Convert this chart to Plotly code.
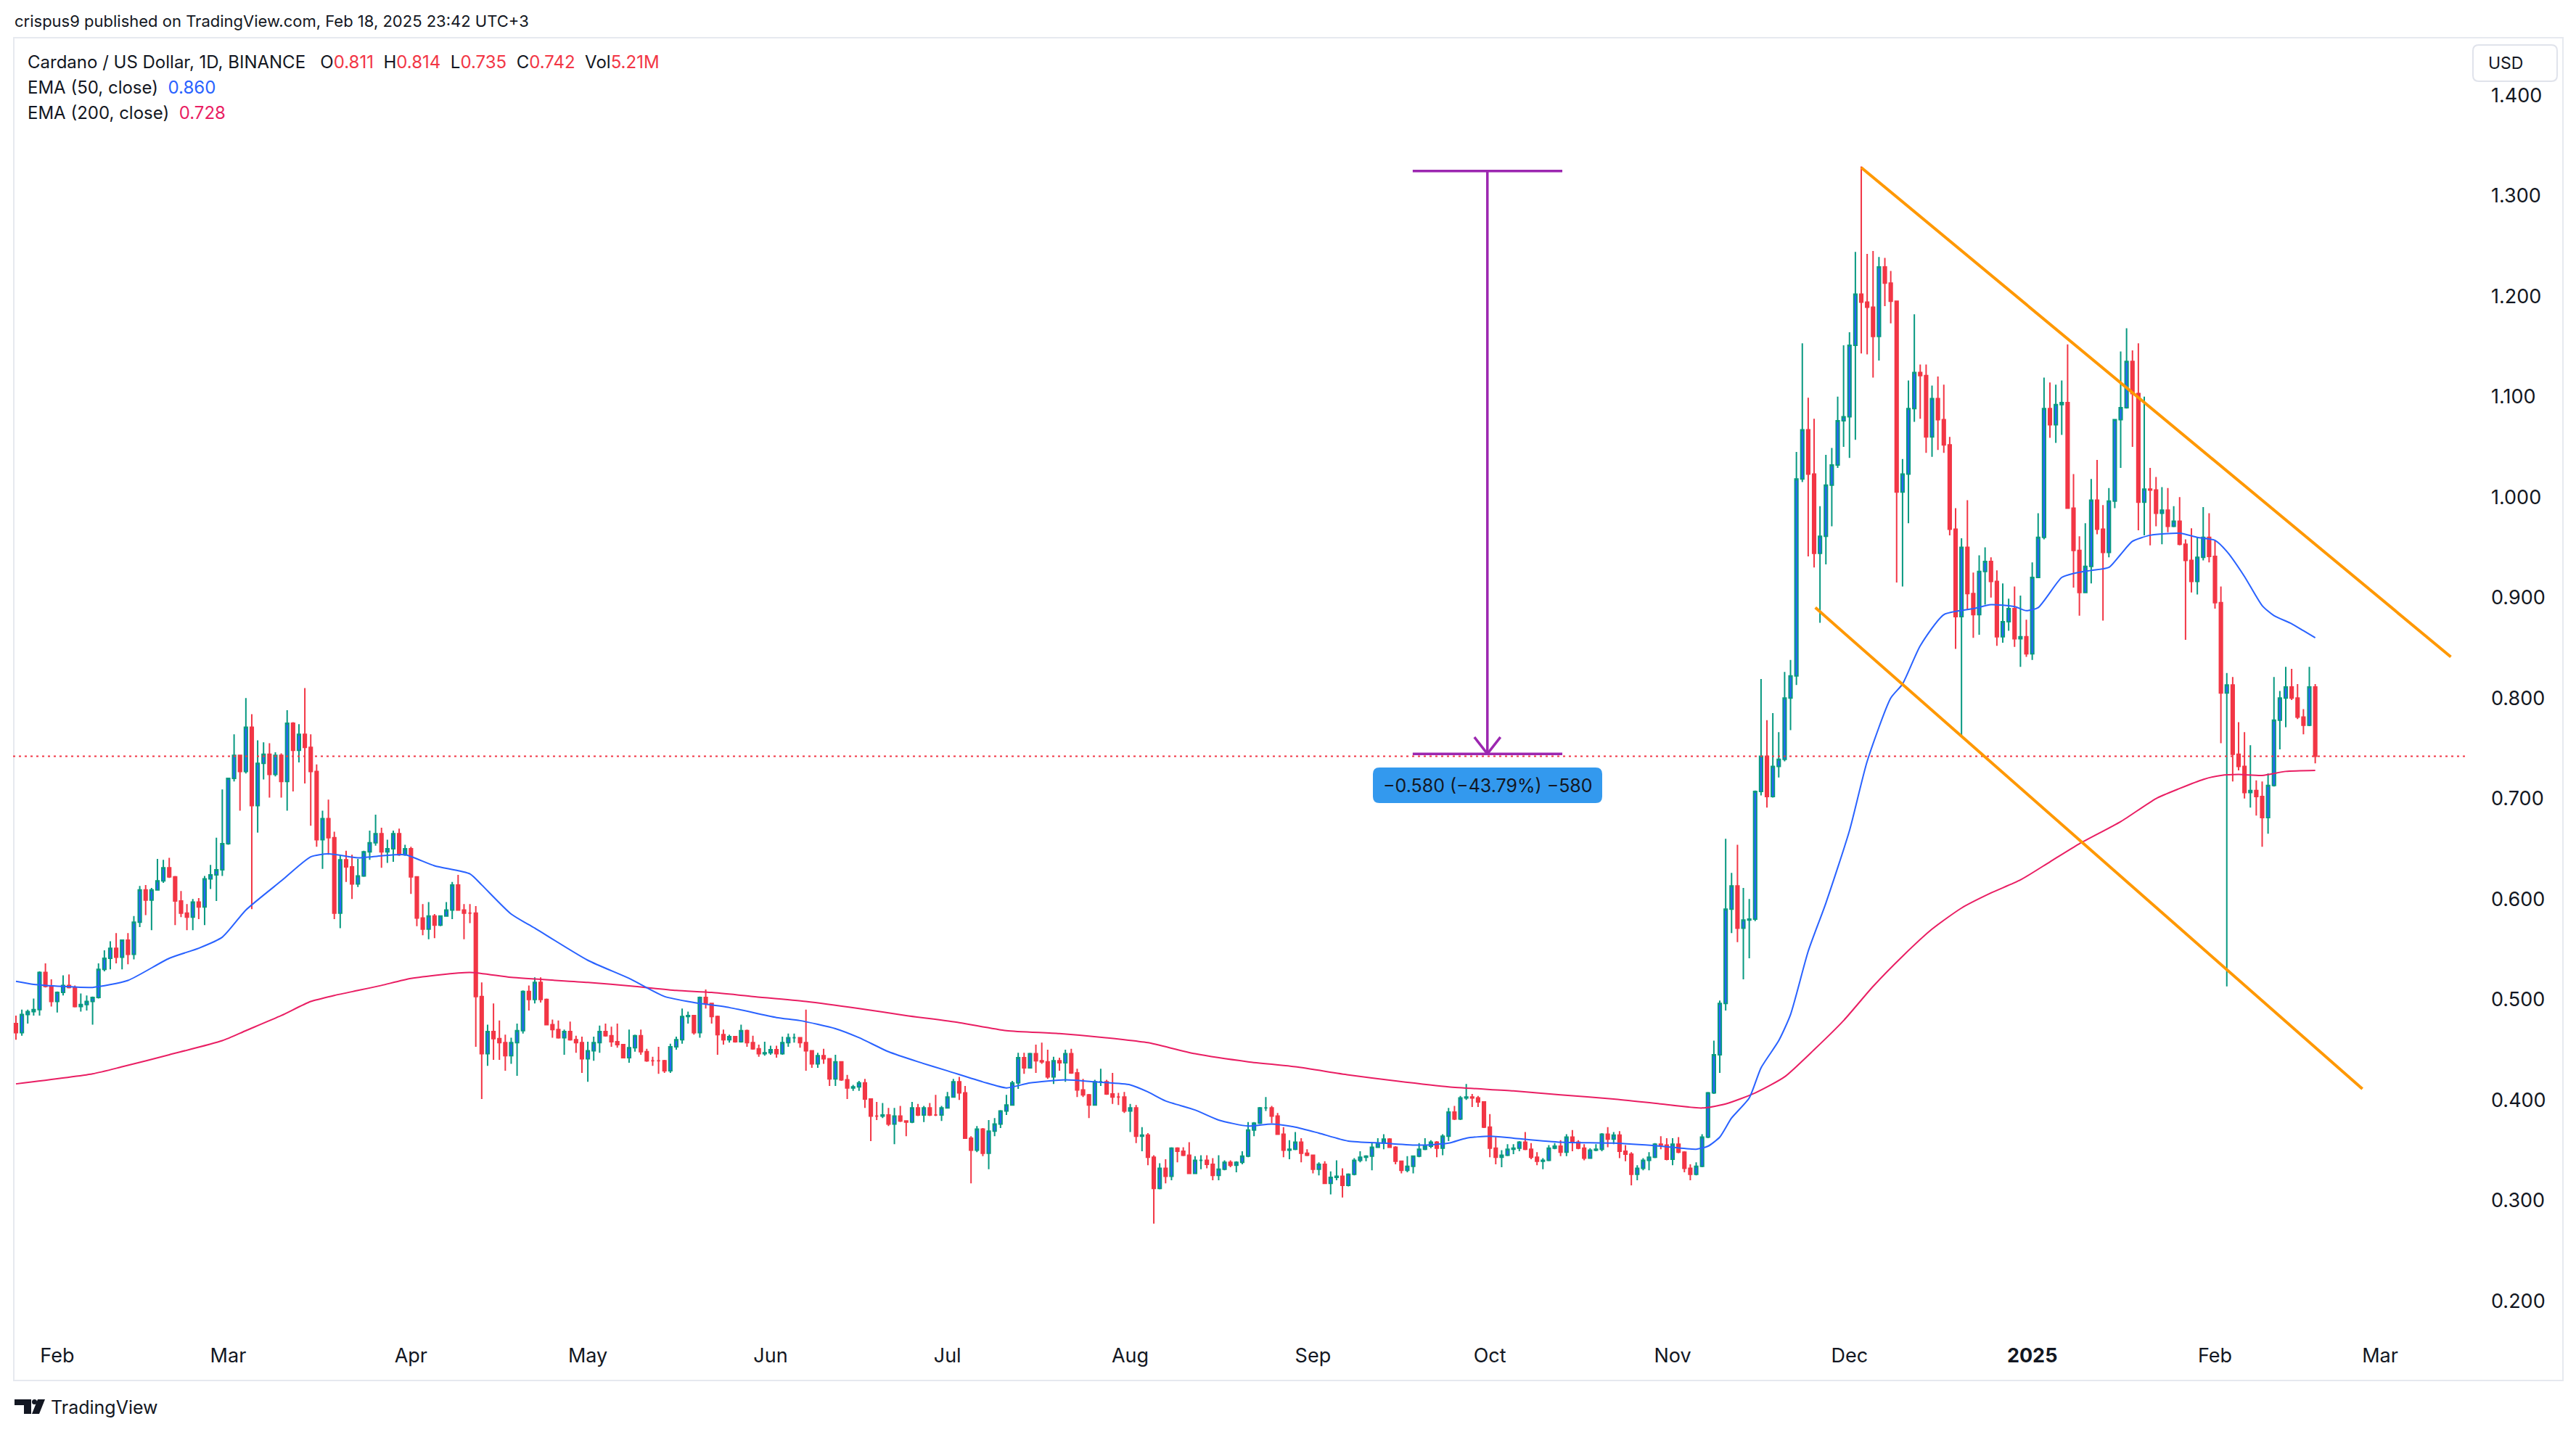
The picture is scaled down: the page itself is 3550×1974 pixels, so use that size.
import pandas as pd
import plotly.graph_objects as go

# ---------------- data ----------------
start_date = "2024-01-25"
first_open = 0.476

closes = [
    0.467, 0.485, 0.488, 0.490, 0.527, 0.513, 0.498, 0.507, 0.514, 0.512,
    0.493, 0.495, 0.498, 0.502, 0.530, 0.541, 0.551, 0.542, 0.559, 0.545,
    0.577, 0.609, 0.599, 0.609, 0.618, 0.631, 0.622, 0.598, 0.586, 0.582,
    0.597, 0.592, 0.620, 0.624, 0.629, 0.655, 0.720, 0.743, 0.727, 0.771,
    0.693, 0.735, 0.744, 0.724, 0.743, 0.717, 0.775, 0.748, 0.764, 0.751,
    0.727, 0.659, 0.680, 0.661, 0.586, 0.639, 0.632, 0.615, 0.623, 0.647,
    0.656, 0.665, 0.647, 0.650, 0.665, 0.644, 0.650, 0.622, 0.581, 0.570,
    0.583, 0.574, 0.583, 0.589, 0.614, 0.589, 0.586, 0.586, 0.503, 0.446,
    0.468, 0.461, 0.457, 0.444, 0.457, 0.469, 0.508, 0.500, 0.517, 0.500,
    0.475, 0.470, 0.462, 0.468, 0.460, 0.457, 0.441, 0.449, 0.457, 0.468,
    0.464, 0.458, 0.455, 0.442, 0.452, 0.464, 0.448, 0.439, 0.439, 0.439,
    0.429, 0.453, 0.460, 0.483, 0.484, 0.467, 0.502, 0.496, 0.483, 0.465,
    0.460, 0.463, 0.458, 0.469, 0.457, 0.451, 0.446, 0.447, 0.450, 0.446,
    0.457, 0.462, 0.462, 0.457, 0.449, 0.436, 0.444, 0.441, 0.421, 0.438,
    0.420, 0.412, 0.413, 0.417, 0.401, 0.384, 0.384, 0.385, 0.376, 0.384,
    0.379, 0.378, 0.392, 0.385, 0.392, 0.385, 0.385, 0.392, 0.403, 0.418,
    0.407, 0.362, 0.350, 0.371, 0.347, 0.369, 0.376, 0.389, 0.395, 0.417,
    0.442, 0.432, 0.446, 0.439, 0.438, 0.423, 0.439, 0.437, 0.446, 0.427,
    0.410, 0.405, 0.395, 0.418, 0.418, 0.406, 0.403, 0.403, 0.389, 0.392,
    0.364, 0.365, 0.343, 0.312, 0.332, 0.324, 0.352, 0.349, 0.345, 0.327,
    0.340, 0.340, 0.336, 0.325, 0.331, 0.338, 0.335, 0.338, 0.344, 0.370,
    0.377, 0.392, 0.392, 0.384, 0.366, 0.350, 0.351, 0.358, 0.347, 0.345,
    0.331, 0.336, 0.317, 0.323, 0.324, 0.315, 0.326, 0.340, 0.343, 0.344,
    0.353, 0.357, 0.361, 0.353, 0.339, 0.330, 0.334, 0.344, 0.351, 0.354,
    0.358, 0.352, 0.364, 0.388, 0.381, 0.402, 0.403, 0.402, 0.398, 0.373,
    0.352, 0.343, 0.345, 0.351, 0.352, 0.358, 0.351, 0.343, 0.339, 0.340,
    0.352, 0.354, 0.348, 0.363, 0.358, 0.352, 0.342, 0.350, 0.351, 0.366,
    0.361, 0.365, 0.349, 0.346, 0.326, 0.332, 0.340, 0.343, 0.356, 0.355,
    0.341, 0.356, 0.348, 0.332, 0.326, 0.334, 0.363, 0.407, 0.445, 0.496,
    0.590, 0.613, 0.571, 0.579, 0.580, 0.707, 0.742, 0.702, 0.732, 0.739,
    0.800, 0.822, 1.018, 1.067, 1.023, 0.944, 0.961, 1.012, 1.032, 1.076,
    1.080, 1.151, 1.202, 1.194, 1.189, 1.160, 1.229, 1.213, 1.195, 1.005,
    1.023, 1.088, 1.124, 1.121, 1.060, 1.098, 1.077, 1.052, 0.968, 0.881,
    0.950, 0.904, 0.883, 0.926, 0.936, 0.916, 0.861, 0.876, 0.889, 0.859,
    0.861, 0.844, 0.920, 0.960, 1.088, 1.072, 1.092, 1.094, 0.989, 0.947,
    0.905, 0.931, 0.997, 0.968, 0.945, 0.996, 1.077, 1.089, 1.135, 1.103,
    0.995, 1.008, 1.007, 0.984, 0.987, 0.971, 0.976, 0.953, 0.937, 0.916,
    0.940, 0.960, 0.941, 0.895, 0.805, 0.813, 0.744, 0.732, 0.706, 0.708,
    0.702, 0.681, 0.713, 0.778, 0.800, 0.811, 0.800, 0.781, 0.773, 0.811,
    0.742,
]

highs = [
    0.484, 0.490, 0.490, 0.501, 0.528, 0.536, 0.520, 0.508, 0.524, 0.525,
    0.514, 0.506, 0.504, 0.503, 0.536, 0.549, 0.558, 0.566, 0.559, 0.566,
    0.583, 0.613, 0.614, 0.611, 0.640, 0.639, 0.641, 0.623, 0.608, 0.595,
    0.600, 0.601, 0.623, 0.634, 0.661, 0.709, 0.720, 0.764, 0.743, 0.800,
    0.784, 0.758, 0.756, 0.755, 0.746, 0.745, 0.788, 0.776, 0.774, 0.810,
    0.764, 0.734, 0.688, 0.699, 0.667, 0.644, 0.648, 0.644, 0.640, 0.648,
    0.668, 0.684, 0.671, 0.659, 0.668, 0.670, 0.654, 0.652, 0.621, 0.595,
    0.597, 0.585, 0.583, 0.597, 0.617, 0.624, 0.595, 0.595, 0.593, 0.517,
    0.475, 0.496, 0.479, 0.465, 0.462, 0.476, 0.509, 0.514, 0.522, 0.522,
    0.501, 0.480, 0.479, 0.470, 0.478, 0.464, 0.463, 0.458, 0.463, 0.474,
    0.476, 0.473, 0.476, 0.455, 0.470, 0.465, 0.470, 0.451, 0.443, 0.453,
    0.440, 0.456, 0.463, 0.491, 0.488, 0.484, 0.503, 0.510, 0.496, 0.484,
    0.470, 0.465, 0.463, 0.475, 0.470, 0.464, 0.455, 0.458, 0.454, 0.454,
    0.463, 0.466, 0.466, 0.462, 0.490, 0.449, 0.447, 0.451, 0.441, 0.445,
    0.438, 0.425, 0.415, 0.419, 0.421, 0.401, 0.398, 0.397, 0.392, 0.392,
    0.394, 0.379, 0.398, 0.396, 0.394, 0.397, 0.405, 0.394, 0.408, 0.421,
    0.423, 0.414, 0.364, 0.374, 0.372, 0.380, 0.382, 0.390, 0.405, 0.419,
    0.447, 0.447, 0.447, 0.455, 0.457, 0.450, 0.443, 0.442, 0.450, 0.451,
    0.431, 0.421, 0.406, 0.420, 0.431, 0.420, 0.427, 0.407, 0.408, 0.396,
    0.395, 0.373, 0.367, 0.345, 0.337, 0.341, 0.353, 0.353, 0.353, 0.358,
    0.344, 0.345, 0.345, 0.342, 0.345, 0.340, 0.340, 0.339, 0.349, 0.378,
    0.378, 0.393, 0.403, 0.394, 0.387, 0.373, 0.360, 0.368, 0.362, 0.351,
    0.345, 0.338, 0.339, 0.329, 0.340, 0.332, 0.327, 0.342, 0.349, 0.345,
    0.358, 0.362, 0.366, 0.362, 0.354, 0.339, 0.344, 0.344, 0.357, 0.362,
    0.360, 0.359, 0.366, 0.392, 0.394, 0.404, 0.416, 0.406, 0.404, 0.398,
    0.386, 0.363, 0.350, 0.356, 0.356, 0.359, 0.368, 0.357, 0.348, 0.342,
    0.355, 0.357, 0.360, 0.366, 0.370, 0.360, 0.356, 0.352, 0.356, 0.367,
    0.373, 0.368, 0.369, 0.355, 0.348, 0.335, 0.342, 0.348, 0.357, 0.364,
    0.362, 0.362, 0.363, 0.349, 0.336, 0.338, 0.366, 0.408, 0.459, 0.499,
    0.660, 0.626, 0.654, 0.611, 0.600, 0.708, 0.819, 0.778, 0.785, 0.766,
    0.826, 0.838, 1.045, 1.153, 1.099, 1.078, 0.991, 1.042, 1.049, 1.100,
    1.151, 1.164, 1.244, 1.329, 1.242, 1.245, 1.239, 1.238, 1.225, 1.195,
    1.038, 1.116, 1.182, 1.132, 1.132, 1.111, 1.120, 1.112, 1.060, 0.989,
    0.959, 0.997, 0.925, 0.942, 0.950, 0.940, 0.927, 0.914, 0.899, 0.911,
    0.902, 0.878, 0.935, 0.984, 1.119, 1.114, 1.112, 1.116, 1.152, 1.023,
    0.961, 0.974, 1.018, 1.037, 0.992, 1.009, 1.077, 1.145, 1.168, 1.146,
    1.153, 1.100, 1.029, 1.020, 1.010, 1.009, 0.991, 1.000, 0.958, 0.969,
    0.960, 0.990, 0.984, 0.957, 0.911, 0.825, 0.821, 0.776, 0.766, 0.753,
    0.718, 0.717, 0.725, 0.821, 0.807, 0.831, 0.829, 0.814, 0.789, 0.831,
    0.814,
]

lows = [
    0.460, 0.464, 0.476, 0.484, 0.484, 0.512, 0.493, 0.487, 0.504, 0.511,
    0.492, 0.488, 0.489, 0.475, 0.501, 0.528, 0.530, 0.536, 0.530, 0.535,
    0.540, 0.572, 0.584, 0.569, 0.609, 0.616, 0.621, 0.574, 0.582, 0.569,
    0.569, 0.580, 0.574, 0.610, 0.598, 0.623, 0.654, 0.717, 0.688, 0.725,
    0.590, 0.666, 0.719, 0.701, 0.722, 0.701, 0.688, 0.707, 0.736, 0.715,
    0.673, 0.652, 0.630, 0.644, 0.580, 0.571, 0.617, 0.600, 0.612, 0.622,
    0.639, 0.653, 0.631, 0.636, 0.637, 0.643, 0.643, 0.605, 0.573, 0.564,
    0.560, 0.561, 0.573, 0.583, 0.580, 0.589, 0.560, 0.576, 0.453, 0.401,
    0.434, 0.440, 0.440, 0.429, 0.436, 0.424, 0.466, 0.489, 0.496, 0.497,
    0.475, 0.462, 0.461, 0.445, 0.459, 0.447, 0.427, 0.418, 0.439, 0.447,
    0.463, 0.453, 0.452, 0.442, 0.437, 0.448, 0.445, 0.438, 0.434, 0.426,
    0.427, 0.427, 0.450, 0.456, 0.476, 0.465, 0.462, 0.491, 0.476, 0.445,
    0.455, 0.457, 0.457, 0.457, 0.453, 0.450, 0.443, 0.444, 0.445, 0.442,
    0.445, 0.453, 0.457, 0.452, 0.429, 0.432, 0.432, 0.436, 0.414, 0.414,
    0.419, 0.401, 0.409, 0.409, 0.392, 0.359, 0.380, 0.382, 0.374, 0.356,
    0.378, 0.364, 0.377, 0.384, 0.378, 0.384, 0.384, 0.379, 0.392, 0.403,
    0.400, 0.362, 0.317, 0.348, 0.344, 0.331, 0.364, 0.372, 0.385, 0.395,
    0.411, 0.426, 0.432, 0.427, 0.436, 0.421, 0.416, 0.429, 0.418, 0.426,
    0.403, 0.403, 0.382, 0.395, 0.414, 0.405, 0.396, 0.395, 0.387, 0.368,
    0.357, 0.349, 0.335, 0.277, 0.311, 0.317, 0.320, 0.338, 0.344, 0.327,
    0.327, 0.331, 0.332, 0.320, 0.320, 0.330, 0.333, 0.328, 0.336, 0.343,
    0.364, 0.376, 0.389, 0.377, 0.366, 0.343, 0.341, 0.350, 0.338, 0.344,
    0.327, 0.325, 0.317, 0.306, 0.320, 0.303, 0.314, 0.325, 0.338, 0.339,
    0.330, 0.353, 0.351, 0.353, 0.336, 0.327, 0.328, 0.327, 0.343, 0.350,
    0.352, 0.343, 0.345, 0.359, 0.380, 0.380, 0.400, 0.393, 0.393, 0.372,
    0.343, 0.336, 0.333, 0.344, 0.346, 0.349, 0.350, 0.341, 0.335, 0.331,
    0.339, 0.351, 0.344, 0.344, 0.349, 0.351, 0.340, 0.342, 0.349, 0.349,
    0.353, 0.356, 0.342, 0.339, 0.315, 0.320, 0.330, 0.330, 0.342, 0.351,
    0.340, 0.335, 0.347, 0.328, 0.320, 0.325, 0.333, 0.362, 0.406, 0.427,
    0.489, 0.566, 0.557, 0.520, 0.541, 0.578, 0.703, 0.691, 0.701, 0.721,
    0.737, 0.768, 0.813, 1.015, 0.941, 0.930, 0.875, 0.933, 0.971, 1.029,
    1.050, 1.039, 1.057, 1.143, 1.142, 1.119, 1.136, 1.190, 1.173, 0.915,
    0.911, 0.974, 1.075, 1.078, 1.044, 1.040, 1.047, 1.044, 0.962, 0.849,
    0.763, 0.888, 0.860, 0.863, 0.893, 0.900, 0.852, 0.855, 0.867, 0.851,
    0.831, 0.841, 0.838, 0.920, 0.958, 1.059, 1.054, 1.062, 0.989, 0.910,
    0.882, 0.905, 0.914, 0.963, 0.877, 0.940, 0.989, 1.029, 1.088, 1.050,
    0.967, 0.962, 0.952, 0.971, 0.953, 0.965, 0.970, 0.952, 0.858, 0.905,
    0.903, 0.937, 0.935, 0.889, 0.755, 0.513, 0.717, 0.728, 0.700, 0.691,
    0.683, 0.652, 0.665, 0.712, 0.749, 0.771, 0.798, 0.779, 0.764, 0.772,
    0.735,
]

# EMA lines (day offset from start_date, value)
ema50_day = [0, 3, 8, 13, 19, 26, 31, 35, 39, 45, 50, 53, 58, 62, 66, 71, 77, 79, 84, 88,
             97, 104, 110, 115, 121, 129, 133, 139, 143, 148, 153, 158, 164, 168, 172, 178,
             183, 189, 192, 195, 200, 204, 209, 213, 217, 221, 226, 232, 238, 243, 246, 250,
             254, 262, 271, 279, 285, 287, 289, 291, 294, 296, 299, 301, 304, 307, 311, 314,
             318, 320, 323, 327, 332, 335, 339, 341, 343, 347, 349, 352, 355, 357, 359, 362,
             367, 370, 373, 375, 378, 381, 383, 386, 388, 390]
ema50_val = [0.518, 0.515, 0.513, 0.512, 0.519, 0.541, 0.551, 0.562, 0.589, 0.618, 0.642,
             0.645, 0.641, 0.643, 0.644, 0.633, 0.625, 0.614, 0.585, 0.571, 0.539, 0.521,
             0.503, 0.497, 0.492, 0.482, 0.479, 0.471, 0.462, 0.448, 0.438, 0.429, 0.418,
             0.412, 0.417, 0.420, 0.418, 0.415, 0.408, 0.399, 0.390, 0.380, 0.374, 0.376,
             0.373, 0.367, 0.359, 0.357, 0.355, 0.357, 0.362, 0.364, 0.362, 0.358, 0.357,
             0.354, 0.351, 0.354, 0.363, 0.382, 0.402, 0.432, 0.459, 0.485, 0.548, 0.596,
             0.668, 0.737, 0.800, 0.814, 0.852, 0.883, 0.889, 0.893, 0.891, 0.887, 0.890,
             0.920, 0.924, 0.927, 0.930, 0.943, 0.956, 0.962, 0.964, 0.960, 0.957, 0.946,
             0.921, 0.892, 0.882, 0.874, 0.867, 0.860]

ema200_day = [0, 13, 18, 26, 35, 39, 45, 50, 54, 58, 62, 67, 77, 84, 97, 105, 112, 118, 125,
              134, 143, 151, 160, 168, 177, 188, 192, 200, 209, 217, 226, 234, 243, 254, 262,
              271, 279, 286, 290, 295, 300, 305, 310, 315, 320, 325, 330, 335, 340, 345, 350,
              357, 363, 367, 371, 374, 377, 381, 385, 390]
ema200_val = [0.416, 0.426, 0.433, 0.445, 0.459, 0.469, 0.484, 0.498, 0.504, 0.509, 0.514,
              0.521, 0.527, 0.522, 0.517, 0.513, 0.509, 0.507, 0.503, 0.498, 0.491, 0.484,
              0.477, 0.469, 0.466, 0.460, 0.457, 0.446, 0.438, 0.433, 0.425, 0.419, 0.413,
              0.409, 0.405, 0.401, 0.396, 0.392, 0.396, 0.407, 0.423, 0.450, 0.479, 0.513,
              0.543, 0.570, 0.591, 0.606, 0.619, 0.637, 0.655, 0.677, 0.700, 0.710, 0.719,
              0.723, 0.724, 0.723, 0.727, 0.728]

y_ticks = [0.2, 0.3, 0.4, 0.5, 0.6, 0.7, 0.8, 0.9, 1.0, 1.1, 1.2, 1.3, 1.4]
x_tick_dates = ["2024-02-01", "2024-03-01", "2024-04-01", "2024-05-01", "2024-06-01",
                "2024-07-01", "2024-08-01", "2024-09-01", "2024-10-01", "2024-11-01",
                "2024-12-01", "2025-01-01", "2025-02-01", "2025-03-01"]
x_tick_text = ["Feb", "Mar", "Apr", "May", "Jun", "Jul", "Aug", "Sep", "Oct", "Nov",
               "Dec", "<b>2025</b>", "Feb", "Mar"]

# drawings (date, price)
last_price = 0.742
measure_x = "2024-09-30 14:00"
measure_x0 = "2024-09-17 22:00"
measure_x1 = "2024-10-13 07:00"
measure_top = 1.3245
measure_bottom = 0.7445
channel_upper = [("2024-12-03 00:00", 1.328), ("2025-03-13 00:00", 0.841)]
channel_lower = [("2024-11-25 05:00", 0.890), ("2025-02-26 00:00", 0.411)]

# ---------------- figure ----------------
W, H = 3550, 1974
L, R, T, B = 18, 153, 57, 144
PW, PH = W - L - R, H - T - B
FONT = "Inter, Roboto, 'Open Sans', sans-serif"
TXT = "#131722"


def px(xp):
    return (xp - L) / PW


def py(yp):
    return 1 - (yp - T) / PH


base = pd.Timestamp(start_date)
dates = pd.date_range(start_date, periods=len(closes), freq="D")
opens = [first_open] + closes[:-1]

fig = go.Figure()
fig.add_trace(go.Candlestick(
    x=dates, open=opens, high=highs, low=lows, close=closes,
    increasing=dict(line=dict(color="#089981", width=2), fillcolor="#2962FF"),
    decreasing=dict(line=dict(color="#F23645", width=2), fillcolor="#F23645"),
    whiskerwidth=0, hoverinfo="skip", showlegend=False,
))
fig.add_trace(go.Scatter(
    x=[base + pd.Timedelta(days=d) for d in ema200_day], y=ema200_val, mode="lines",
    line=dict(color="#E91E63", width=2, shape="spline", smoothing=0.6),
    hoverinfo="skip", showlegend=False))
fig.add_trace(go.Scatter(
    x=[base + pd.Timedelta(days=d) for d in ema50_day], y=ema50_val, mode="lines",
    line=dict(color="#2962FF", width=2, shape="spline", smoothing=0.6),
    hoverinfo="skip", showlegend=False))

shapes = []
# outer pane frame
shapes.append(dict(type="rect", xref="paper", yref="paper", x0=px(19), x1=px(3532),
                   y0=py(1903), y1=py(52), line=dict(color="#E6E9EF", width=2), layer="below"))
# last price dotted line
shapes.append(dict(type="line", xref="paper", yref="y", x0=0, x1=1, y0=last_price, y1=last_price,
                   line=dict(color="#F23645", width=2, dash="3px,5px")))
# channel
for seg in (channel_upper, channel_lower):
    shapes.append(dict(type="line", xref="x", yref="y", x0=seg[0][0], y0=seg[0][1],
                       x1=seg[1][0], y1=seg[1][1], line=dict(color="#FF9800", width=4)))
# measure tool
purple = dict(color="#9C27B0", width=3.5)
shapes.append(dict(type="line", x0=measure_x0, x1=measure_x1, y0=measure_top, y1=measure_top, line=purple))
shapes.append(dict(type="line", x0=measure_x0, x1=measure_x1, y0=measure_bottom, y1=measure_bottom, line=purple))
shapes.append(dict(type="line", x0=measure_x, x1=measure_x, y0=measure_top, y1=measure_bottom, line=purple))
tip = pd.Timestamp(measure_x)
for sgn in (-1, 1):
    shapes.append(dict(type="line", x0=tip + sgn * pd.Timedelta(hours=53), y0=measure_bottom + 0.0166,
                       x1=tip, y1=measure_bottom, line=purple))


def rounded_rect(x0, y0, x1, y1, r):
    # pixel coords -> paper path with rounded corners
    def P(a, b):
        return f"{px(a):.6f},{py(b):.6f}"
    path = (f"M {P(x0 + r, y0)} L {P(x1 - r, y0)} Q {P(x1, y0)} {P(x1, y0 + r)} "
            f"L {P(x1, y1 - r)} Q {P(x1, y1)} {P(x1 - r, y1)} L {P(x0 + r, y1)} "
            f"Q {P(x0, y1)} {P(x0, y1 - r)} L {P(x0, y0 + r)} Q {P(x0, y0)} {P(x0 + r, y0)} Z")
    return path


shapes.append(dict(type="path", xref="paper", yref="paper", path=rounded_rect(1892, 1058, 2208, 1107, 9),
                   fillcolor="#3399EE", line=dict(width=0)))
# USD box
shapes.append(dict(type="path", xref="paper", yref="paper", path=rounded_rect(3408, 62, 3524, 112, 8),
                   fillcolor="white", line=dict(color="#E0E3EB", width=2)))
# TradingView logo mark
shapes.append(dict(type="path", xref="paper", yref="paper",
                   path=f"M {px(20)},{py(1929)} L {px(43)},{py(1929)} L {px(43)},{py(1949)} L {px(33)},{py(1949)} "
                        f"L {px(33)},{py(1937)} L {px(20)},{py(1937)} Z",
                   fillcolor=TXT, line=dict(width=0)))
shapes.append(dict(type="circle", xref="paper", yref="paper", x0=px(44), x1=px(51), y0=py(1936), y1=py(1929),
                   fillcolor=TXT, line=dict(width=0)))
shapes.append(dict(type="path", xref="paper", yref="paper",
                   path=f"M {px(52)},{py(1929)} L {px(62)},{py(1929)} L {px(54)},{py(1949)} L {px(44)},{py(1949)} Z",
                   fillcolor=TXT, line=dict(width=0)))

red = "#F23645"
header = ("Cardano / US Dollar, 1D, BINANCE&nbsp;&nbsp;&nbsp;"
          f"O<span style='color:{red}'>0.811</span>&nbsp;&nbsp;"
          f"H<span style='color:{red}'>0.814</span>&nbsp;&nbsp;"
          f"L<span style='color:{red}'>0.735</span>&nbsp;&nbsp;"
          f"C<span style='color:{red}'>0.742</span>&nbsp;&nbsp;"
          f"Vol<span style='color:{red}'>5.21M</span>")

hdr_font = dict(family=FONT, size=24, color=TXT)
annotations = [
    dict(text="crispus9 published on TradingView.com, Feb 18, 2025 23:42 UTC+3",
         x=px(18), y=py(29), xanchor="left", yanchor="middle", font=dict(family=FONT, size=22, color=TXT)),
    dict(text=header, x=px(36), y=py(85), xanchor="left", yanchor="middle", font=hdr_font),
    dict(text="EMA (50, close)&nbsp;&nbsp;<span style='color:#2962FF'>0.860</span>",
         x=px(36), y=py(120), xanchor="left", yanchor="middle", font=hdr_font),
    dict(text="EMA (200, close)&nbsp;&nbsp;<span style='color:#E91E63'>0.728</span>",
         x=px(36), y=py(155), xanchor="left", yanchor="middle", font=hdr_font),
    dict(text="USD", x=px(3427), y=py(87), xanchor="left", yanchor="middle",
         font=dict(family=FONT, size=23, color=TXT)),
    dict(text="TradingView", x=px(68), y=py(1940), xanchor="left", yanchor="middle",
         font=dict(family=FONT, size=25, color=TXT)),
    dict(text="\u22120.580 (\u221243.79%) \u2212580", x=px(2050), y=py(1083), xanchor="center",
         yanchor="middle", font=dict(family=FONT, size=25, color=TXT)),
]
for a in annotations:
    a.setdefault("xref", "paper")
    a.setdefault("yref", "paper")
    a.setdefault("showarrow", False)

x_start = base + pd.Timedelta(days=-0.49)
x_end = base + pd.Timedelta(days=415.4)

fig.update_layout(
    width=W, height=H, margin=dict(l=L, r=R, t=T, b=B),
    paper_bgcolor="white", plot_bgcolor="white", showlegend=False,
    boxgap=0.27, shapes=shapes, annotations=annotations,
    xaxis=dict(type="date", range=[x_start, x_end], rangeslider=dict(visible=False),
               tickvals=x_tick_dates, ticktext=x_tick_text, showgrid=False, zeroline=False,
               showline=False, ticks="", ticklabelstandoff=20,
               tickfont=dict(family=FONT, size=27, color=TXT)),
    yaxis=dict(side="right", range=[0.1735, 1.4536], tickvals=y_ticks,
               ticktext=[f"{v:.3f}" for v in y_ticks], showgrid=False, zeroline=False,
               showline=False, ticks="", ticklabelstandoff=35,
               tickfont=dict(family=FONT, size=27, color=TXT)),
)

fig.write_html("out.html")
